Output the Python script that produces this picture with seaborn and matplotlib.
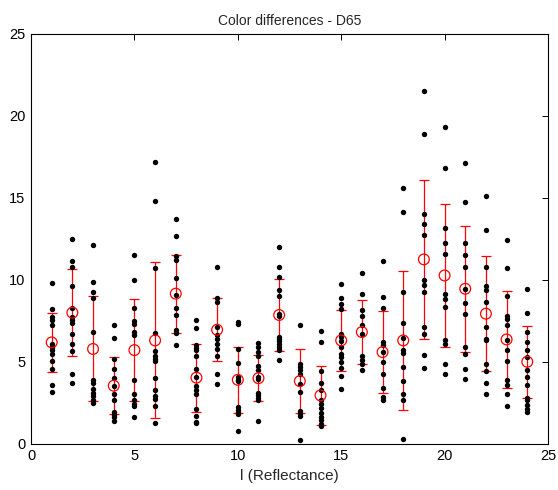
import numpy as np
import pandas as pd
import matplotlib
matplotlib.use("Agg")
import matplotlib.pyplot as plt
import seaborn as sns

# Sample numbers (reflectance index)
samples = list(range(1, 25))

# Individual colour-difference observations per sample
delta_e = [
    [9.83, 8.22, 7.73, 7.53, 7.25, 6.11, 5.90, 5.70, 5.46, 5.05, 4.58, 3.61, 3.14],
    [12.51, 11.13, 10.78, 9.60, 8.30, 7.73, 7.53, 7.37, 6.68, 6.11, 5.64, 4.28, 3.73],
    [12.15, 9.85, 9.25, 8.90, 6.85, 3.90, 3.70, 3.35, 3.10, 2.90, 2.70, 2.50],
    [7.27, 6.45, 5.15, 4.58, 4.01, 3.55, 3.06, 2.65, 1.92, 1.78, 1.64, 1.39],
    [11.49, 9.97, 8.28, 7.47, 7.33, 6.82, 6.66, 3.91, 3.06, 2.69, 2.41, 2.29, 1.64],
    [17.19, 14.79, 10.72, 6.76, 5.64, 5.34, 5.15, 5.05, 4.01, 3.30, 2.90, 2.75, 2.29, 1.27],
    [13.69, 12.65, 11.43, 11.23, 10.11, 9.10, 8.26, 7.83, 6.92, 6.76, 6.03],
    [7.53, 7.08, 6.05, 5.84, 5.70, 5.34, 4.56, 4.08, 3.55, 3.30, 3.06, 2.14, 1.70, 1.33, 1.27],
    [10.76, 8.89, 8.65, 7.12, 6.66, 6.41, 6.11, 5.80, 5.36, 4.24, 3.67],
    [7.43, 7.33, 5.76, 4.93, 4.08, 3.91, 3.81, 2.25, 2.08, 1.96, 1.84, 0.80],
    [6.17, 5.90, 5.60, 5.34, 4.75, 4.48, 4.08, 3.97, 3.12, 2.96, 2.82, 2.65, 1.39],
    [12.00, 10.76, 10.17, 9.40, 9.01, 7.94, 7.80, 6.52, 6.41, 6.27, 6.11, 5.90, 5.70, 5.13],
    [7.23, 4.89, 4.68, 4.48, 4.28, 3.67, 3.16, 1.98, 1.84, 1.70, 0.21],
    [6.88, 6.21, 4.44, 3.73, 3.26, 2.69, 2.45, 2.19, 1.88, 1.64, 1.43, 1.19, 1.07],
    [9.73, 8.89, 8.55, 8.20, 6.72, 6.51, 6.25, 5.90, 5.50, 5.29, 4.99, 4.64, 4.12, 3.36],
    [10.42, 9.16, 8.14, 7.77, 7.27, 6.72, 5.36, 5.09, 4.89, 4.48],
    [11.13, 8.95, 8.28, 6.21, 6.01, 5.60, 4.99, 4.28, 3.41, 2.86, 2.69],
    [15.60, 14.14, 9.24, 7.39, 6.45, 5.70, 5.54, 4.68, 3.81, 3.02, 2.69, 0.31],
    [21.51, 18.87, 14.03, 13.38, 12.73, 10.01, 9.66, 9.24, 7.12, 6.68, 5.44, 4.64],
    [19.30, 16.82, 13.16, 12.27, 11.57, 9.16, 8.81, 8.34, 6.31, 6.07, 4.85, 4.26],
    [17.12, 14.77, 12.27, 11.49, 10.76, 9.46, 8.59, 7.94, 5.90, 5.50, 4.54, 3.97],
    [15.09, 13.02, 10.78, 9.60, 9.40, 8.65, 7.12, 6.41, 6.31, 4.85, 4.44, 3.73, 3.02],
    [12.45, 10.72, 8.99, 7.80, 7.63, 7.23, 6.31, 5.74, 5.05, 3.87, 3.57, 3.02, 2.29],
    [9.46, 7.98, 6.82, 6.21, 5.70, 5.29, 4.48, 4.08, 3.57, 2.82, 2.65, 2.39, 2.14, 1.94],
]

# Mean and standard deviation per sample
mean_de = [6.19, 8.00, 5.79, 3.55, 5.72, 6.31, 9.16, 4.04, 6.96, 3.91, 4.01, 7.86,
           3.83, 2.96, 6.31, 6.82, 5.60, 6.31, 11.25, 10.27, 9.46, 7.94, 6.37, 5.01]
std_de = [1.82, 2.64, 3.20, 1.72, 3.10, 4.75, 2.37, 2.08, 1.92, 2.00, 1.40, 2.17,
          1.96, 1.82, 1.87, 1.94, 2.48, 4.24, 4.86, 4.38, 3.83, 3.52, 2.94, 2.20]

points = pd.DataFrame(
    [(s, v) for s, vals in zip(samples, delta_e) for v in vals],
    columns=["sample", "dE"],
)
summary = pd.DataFrame({"sample": samples, "mean": mean_de, "std": std_de})

sns.set_style("white")
plt.rcParams["font.family"] = ["Liberation Sans", "DejaVu Sans"]

fig = plt.figure(figsize=(5.58, 4.90), dpi=100)
ax = fig.add_axes([0.0556, 0.094, 0.9264, 0.837])

ax.errorbar(summary["sample"], summary["mean"], yerr=summary["std"],
            fmt="none", ecolor="red", elinewidth=0.9, capsize=3.8,
            capthick=0.9, zorder=2)
sns.scatterplot(data=points, x="sample", y="dE", ax=ax, color="black",
                s=15, linewidth=0, zorder=3, legend=False)
sns.scatterplot(data=summary, x="sample", y="mean", ax=ax, marker="o",
                s=60, facecolor="none", edgecolor="red", linewidth=0.9,
                zorder=4, legend=False)

ax.set_xlim(0, 25)
ax.set_ylim(0, 25)
ax.set_xticks(range(0, 26, 5))
ax.set_yticks(range(0, 26, 5))
ax.tick_params(direction="in", length=4, width=0.7, top=True, right=True,
               labelsize=10.5, colors="black", pad=4)
for sp in ax.spines.values():
    sp.set_visible(True)
    sp.set_color("black")
    sp.set_linewidth(0.8)

ax.set_title("Color differences - D65", fontsize=10, pad=6)
ax.set_xlabel("l (Reflectance)", fontsize=11, labelpad=4)
ax.set_ylabel("")

fig.savefig("out.png", dpi=100)
